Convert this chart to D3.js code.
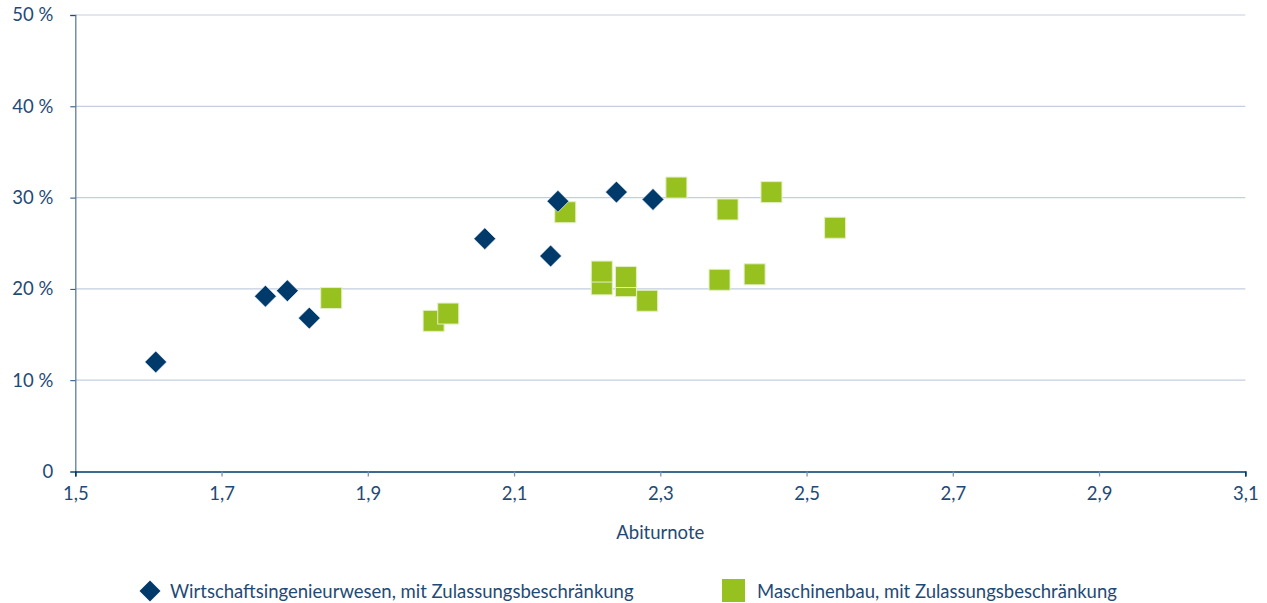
<!DOCTYPE html>
<html lang="de">
<head>
<meta charset="UTF-8">
<title>Abiturnote – Streudiagramm</title>
<script src="https://cdnjs.cloudflare.com/ajax/libs/d3/7.8.5/d3.min.js"></script>
<style>
  body { margin: 0; background: #fff; }
  svg { display: block; font-family: Lato, "Open Sans", sans-serif; }
  .tick text { fill: #1f4a75; font-size: 18.5px; font-family: Lato, "Open Sans", sans-serif; }
</style>
</head>
<body>
<svg width="1267" height="603"></svg>
<script>
// Wirtschaftsingenieurwesen (Abiturnote, Anteil in %)
const wingX = [1.61, 1.76, 1.79, 1.82, 2.06, 2.15, 2.16, 2.24, 2.29];
const wingY = [12.0, 19.2, 19.8, 16.8, 25.5, 23.6, 29.6, 30.6, 29.8];

// Maschinenbau
const mbX = [1.85, 1.99, 2.01, 2.17, 2.22, 2.22, 2.253, 2.253, 2.282, 2.322, 2.392, 2.381, 2.429, 2.452, 2.539];
const mbY = [19.0, 16.5, 17.3, 28.4, 20.5, 21.9, 20.3, 21.3, 18.7, 31.1, 28.7, 21.0, 21.6, 30.6, 26.7];

const xTicks = [1.5, 1.7, 1.9, 2.1, 2.3, 2.5, 2.7, 2.9, 3.1];
const yTicks = [0, 10, 20, 30, 40, 50];
const seriesNames = ["Wirtschaftsingenieurwesen, mit Zulassungsbeschränkung",
                     "Maschinenbau, mit Zulassungsbeschränkung"];

const navy = "#003a6b", green = "#97c11f", textCol = "#1f4a75";

const svg = d3.select("svg");
const x = d3.scaleLinear().domain([1.5, 3.1]).range([75.3, 1245.3]);
const y = d3.scaleLinear().domain([0, 50]).range([471.5, 15]);

// grid lines
svg.append("g")
  .selectAll("line")
  .data(yTicks.filter(d => d > 0))
  .join("line")
  .attr("x1", x(1.5)).attr("x2", x(3.1))
  .attr("y1", d => y(d)).attr("y2", d => y(d))
  .attr("stroke", "#c3cee0").attr("stroke-width", 1.2);

// y axis
const yAxis = svg.append("g")
  .attr("transform", `translate(${x(1.5)},0)`)
  .call(d3.axisLeft(y).tickValues(yTicks).tickSize(5).tickPadding(17)
    .tickFormat(d => d === 0 ? "0" : d + " %"));
yAxis.select(".domain").attr("stroke", "#5f7d9c").attr("stroke-width", 1.3);
yAxis.selectAll(".tick line").attr("stroke", "#1f4a75");

// x axis
const xAxis = svg.append("g")
  .attr("transform", `translate(0,${y(0)})`)
  .call(d3.axisBottom(x).tickValues(xTicks).tickSize(5).tickPadding(10)
    .tickFormat(d => d3.format(".1f")(d).replace(".", ",")));
xAxis.select(".domain").attr("stroke", navy).attr("stroke-width", 1.5);
xAxis.selectAll(".tick line").attr("stroke", "#7d93ab").attr("stroke-width", 1.3);
xAxis.selectAll(".tick line").filter(d => d === 3.1 || d === 1.5).attr("stroke", navy);

svg.append("text")
  .attr("x", (x(1.5) + x(3.1)) / 2).attr("y", 539)
  .attr("text-anchor", "middle")
  .attr("fill", textCol).attr("font-size", 18.5)
  .text("Abiturnote");

// Maschinenbau squares
const sq = 21;
svg.append("g")
  .selectAll("rect")
  .data(mbX.map((v, i) => [v, mbY[i]]))
  .join("rect")
  .attr("x", d => x(d[0]) - sq / 2)
  .attr("y", d => y(d[1]) - sq / 2)
  .attr("width", sq).attr("height", sq)
  .attr("fill", green)
  .attr("stroke", "#e4efc4").attr("stroke-width", 1);

// Wirtschaftsingenieurwesen diamonds
const diamond = d3.symbol().type(d3.symbolSquare).size(240);
svg.append("g")
  .selectAll("path")
  .data(wingX.map((v, i) => [v, wingY[i]]))
  .join("path")
  .attr("d", diamond)
  .attr("transform", d => `translate(${x(d[0])},${y(d[1])}) rotate(45)`)
  .attr("fill", navy)
  .attr("stroke", "#ffffff").attr("stroke-width", 0.6);

// legend
const leg = svg.append("g");
leg.append("path")
  .attr("d", d3.symbol().type(d3.symbolSquare).size(220))
  .attr("transform", "translate(150,591) rotate(45)")
  .attr("fill", navy);
leg.append("text")
  .attr("x", 170).attr("y", 598)
  .attr("fill", textCol).attr("font-size", 18.5)
  .text(seriesNames[0]);
leg.append("rect")
  .attr("x", 722).attr("y", 579).attr("width", 23).attr("height", 23)
  .attr("fill", green);
leg.append("text")
  .attr("x", 757).attr("y", 598)
  .attr("fill", textCol).attr("font-size", 18.5)
  .text(seriesNames[1]);
</script>
</body>
</html>
